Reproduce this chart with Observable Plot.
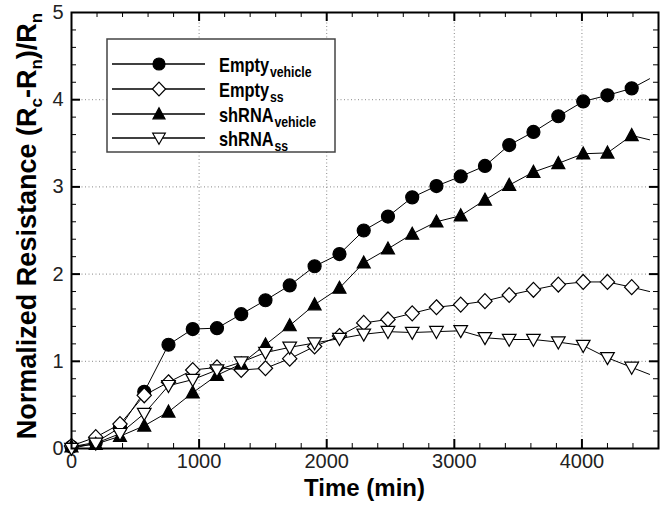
<!DOCTYPE html>
<html>
<head>
<meta charset="utf-8">
<script src="https://cdn.jsdelivr.net/npm/d3@7"></script>
<script src="https://cdn.jsdelivr.net/npm/@observablehq/plot@0.6"></script>
<style>
  html, body { margin: 0; padding: 0; background: #fff; }
  #wrap { position: relative; width: 662px; height: 508px; font-family: "Liberation Sans", Arial, sans-serif; }
  #legend { position: absolute; left: 0; top: 0; }
</style>
</head>
<body>
<div id="wrap"></div>
<script>
// ---- data ----
const time = [0,190,380,570,760,950,1140,1330,1520,1710,1905,2100,2290,2480,2670,2860,3050,3240,3430,3620,3815,4010,4200,4390,4530];
const emptyVehicle = [0.02,0.07,0.24,0.65,1.19,1.37,1.38,1.54,1.70,1.87,2.09,2.23,2.50,2.66,2.88,3.01,3.12,3.24,3.48,3.63,3.81,3.98,4.05,4.13,4.24];
const emptySS      = [0.03,0.13,0.28,0.61,0.76,0.90,0.93,0.90,0.92,1.03,1.17,1.29,1.44,1.48,1.55,1.62,1.65,1.69,1.76,1.82,1.88,1.91,1.91,1.85,1.80];
const shrnaVehicle = [0.02,0.05,0.14,0.26,0.42,0.64,0.84,0.97,1.19,1.41,1.65,1.84,2.13,2.29,2.46,2.60,2.67,2.85,3.02,3.17,3.27,3.38,3.39,3.59,3.54];
const shrnaSS      = [0.00,0.06,0.17,0.40,0.72,0.79,0.90,0.99,1.10,1.16,1.21,1.26,1.31,1.34,1.33,1.34,1.35,1.27,1.25,1.25,1.22,1.18,1.04,0.93,0.85];
const seriesNames = ["Empty", "Empty", "shRNA", "shRNA"];
const seriesSubs  = ["vehicle", "ss", "vehicle", "ss"];
const xMajorTicks = [0,1000,2000,3000,4000];
const yMajorTicks = [0,1,2,3,4,5];
const xLabel = "Time (min)";

// ---- custom marker shapes ----
const rad = s => Math.sqrt(s / Math.PI);
const symCircle = { draw(c, s) { const r = rad(s); c.moveTo(r, 0); c.arc(0, 0, r, 0, 2 * Math.PI); c.closePath(); } };
const symDiamond = { draw(c, s) { const r = rad(s); c.moveTo(0, -r * 1.15); c.lineTo(r * 1.1, 0); c.lineTo(0, r * 1.15); c.lineTo(-r * 1.1, 0); c.closePath(); } };
const symTriUp = { draw(c, s) { const r = rad(s); c.moveTo(0, -r * 1.05); c.lineTo(r, r * 0.8); c.lineTo(-r, r * 0.8); c.closePath(); } };
const symTriDown = { draw(c, s) { const r = rad(s); c.moveTo(0, r * 1.05); c.lineTo(r * 1.05, -r * 0.8); c.lineTo(-r * 1.05, -r * 0.8); c.closePath(); } };

const series = [
  { key: "Empty_vehicle", values: emptyVehicle, symbol: symCircle, fill: "#000" },
  { key: "Empty_ss", values: emptySS, symbol: symDiamond, fill: "#fff" },
  { key: "shRNA_vehicle", values: shrnaVehicle, symbol: symTriUp, fill: "#000" },
  { key: "shRNA_ss", values: shrnaSS, symbol: symTriDown, fill: "#fff" }
];
const rows = series.flatMap(s => time.map((t, i) => ({ t, v: s.values[i], s: s.key, i })));
const nMarkers = time.length - 1;

const W = 662, H = 508, mL = 71, mR = 4, mT = 12, mB = 60;
const pw = W - mL - mR, ph = H - mT - mB;
const xMinor = d3.range(200, 4600, 200).filter(v => v % 1000 !== 0);
const xMaj = [1000, 2000, 3000, 4000];
const yMinor = d3.range(0.2, 5, 0.2).map(v => +v.toFixed(1)).filter(v => Math.abs(v - Math.round(v)) > 1e-6);
const yMaj = [1, 2, 3, 4];

const marks = [
  Plot.gridX(xMaj, { stroke: "#888", strokeOpacity: 1, strokeDasharray: "1,2.5", strokeWidth: 1 }),
  Plot.gridY(yMaj, { stroke: "#888", strokeOpacity: 1, strokeDasharray: "1,2.5", strokeWidth: 1 }),
  // inward ticks on all four sides
  Plot.ruleX(xMinor, { x: d => d, insetTop: ph - 5, stroke: "#000", strokeWidth: 1 }),
  Plot.ruleX(xMinor, { x: d => d, insetBottom: ph - 5, stroke: "#000", strokeWidth: 1 }),
  Plot.ruleX(xMaj, { x: d => d, insetTop: ph - 9, stroke: "#000", strokeWidth: 2 }),
  Plot.ruleX(xMaj, { x: d => d, insetBottom: ph - 9, stroke: "#000", strokeWidth: 2 }),
  Plot.ruleY(yMinor, { y: d => d, insetRight: pw - 5, stroke: "#000", strokeWidth: 1 }),
  Plot.ruleY(yMinor, { y: d => d, insetLeft: pw - 5, stroke: "#000", strokeWidth: 1 }),
  Plot.ruleY(yMaj, { y: d => d, insetRight: pw - 9, stroke: "#000", strokeWidth: 2 }),
  Plot.ruleY(yMaj, { y: d => d, insetLeft: pw - 9, stroke: "#000", strokeWidth: 2 }),
  Plot.axisX(xMajorTicks, { tickSize: 0, tickPadding: 5, fontSize: 20, fill: "#222", label: null, tickFormat: d => String(d) }),
  Plot.axisY(yMajorTicks, { tickSize: 0, tickPadding: 8, fontSize: 20, fill: "#222", label: null, tickFormat: d => String(d) })
];
for (const s of series) {
  const data = rows.filter(d => d.s === s.key);
  marks.push(Plot.line(data, { x: "t", y: "v", stroke: "#000", strokeWidth: 1 }));
  marks.push(Plot.dot(data.filter(d => d.i < nMarkers), { x: "t", y: "v", symbol: s.symbol, r: 6.5, fill: s.fill, stroke: "#000", strokeWidth: 1.2 }));
}
marks.push(Plot.frame({ stroke: "#000", strokeWidth: 2 }));

const chart = Plot.plot({
  width: W, height: H,
  marginLeft: mL, marginRight: mR, marginTop: mT, marginBottom: mB,
  x: { domain: [0, 4600] },
  y: { domain: [0, 5] },
  style: { fontFamily: "'Liberation Sans', Arial, sans-serif", background: "#fff", overflow: "visible" },
  marks
});
document.getElementById("wrap").appendChild(chart);

// axis titles
const svg = d3.select(chart);
svg.append("text")
  .attr("x", mL + pw / 2).attr("y", 496)
  .attr("text-anchor", "middle")
  .attr("font-family", "'Liberation Sans', Arial, sans-serif")
  .attr("font-weight", "bold").attr("font-size", 24).attr("fill", "#000")
  .text(xLabel);

const yl = svg.append("text")
  .attr("transform", "translate(36,226) rotate(-90)")
  .attr("text-anchor", "middle")
  .attr("font-family", "'Liberation Sans', Arial, sans-serif")
  .attr("font-weight", "bold").attr("font-size", 27).attr("fill", "#000");
const ylParts = [["Normalized Resistance (R", 0], ["c", 1], ["-R", 0], ["n", 1], [")/R", 0], ["n", 1]];
let prevSub = 0;
for (const [t, sub] of ylParts) {
  const dy = sub ? 6 : (prevSub ? -6 : 0);
  yl.append("tspan").attr("font-size", sub ? 17 : 27).attr("dy", dy).text(t);
  prevSub = sub;
}

// legend (overlay)
const lg = d3.select("#wrap").append("svg").attr("id", "legend").attr("width", W).attr("height", H);
lg.append("rect").attr("x", 107).attr("y", 39).attr("width", 228).attr("height", 113)
  .attr("fill", "#fff").attr("stroke", "#444").attr("stroke-width", 1.5);
const rowY = [64, 89, 114, 138];
series.forEach((s, k) => {
  const y = rowY[k];
  lg.append("line").attr("x1", 112).attr("x2", 205).attr("y1", y).attr("y2", y).attr("stroke", "#000").attr("stroke-width", 1.6);
  lg.append("path").attr("transform", `translate(159,${y})`)
    .attr("d", d3.symbol().type(s.symbol).size(Math.PI * 6 * 6)())
    .attr("fill", s.fill).attr("stroke", "#000").attr("stroke-width", 1.2);
  const tx = lg.append("text").attr("transform", `translate(219,${y + 8}) scale(0.82,1)`)
    .attr("font-family", "'Liberation Sans', Arial, sans-serif").attr("font-weight", "bold").attr("fill", "#000");
  tx.append("tspan").attr("font-size", 20).text(seriesNames[k]);
  tx.append("tspan").attr("font-size", 15).attr("dy", 5).attr("dx", 1).text(seriesSubs[k]);
});
</script>
</body>
</html>
